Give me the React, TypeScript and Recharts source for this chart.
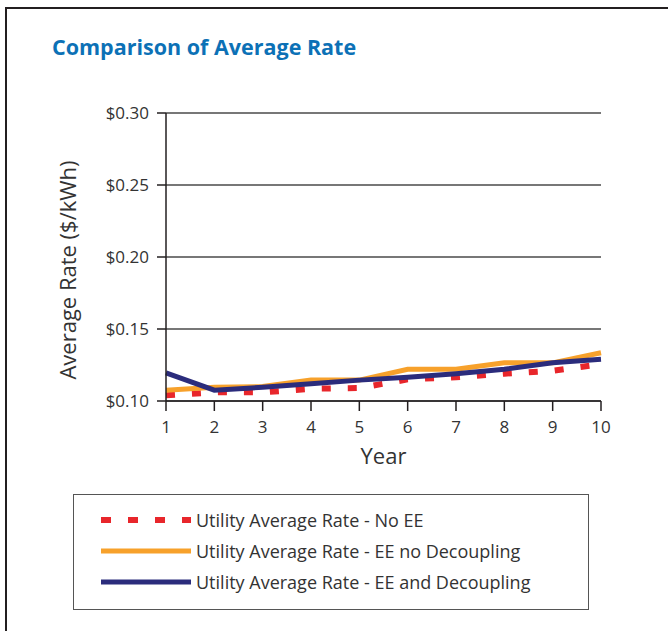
import React from "react";
import { LineChart, Line, XAxis, YAxis, CartesianGrid } from "recharts";

const years = [1, 2, 3, 4, 5, 6, 7, 8, 9, 10];
const noEE = [0.104, 0.106, 0.106, 0.1085, 0.109, 0.115, 0.1165, 0.119, 0.121, 0.1255];
const eeNoDecoupling = [0.1075, 0.1095, 0.110, 0.1145, 0.1145, 0.122, 0.122, 0.1265, 0.1265, 0.1335];
const eeDecoupling = [0.1195, 0.1075, 0.1095, 0.112, 0.1145, 0.1165, 0.119, 0.122, 0.1265, 0.129];
const yTicks = [0.1, 0.15, 0.2, 0.25, 0.3];

const RED = "#e8262b";
const ORANGE = "#f7a12b";
const NAVY = "#2b2c7c";
const TEXT = "#333333";
const FONT = "'Open Sans', 'Noto Sans', sans-serif";

const data = years.map((y, i) => ({
  year: y,
  noEE: noEE[i],
  eeNo: eeNoDecoupling[i],
  eeDec: eeDecoupling[i],
}));

const legendItems = [
  { label: "Utility Average Rate - No EE", color: RED, dash: "10 17", width: 6 },
  { label: "Utility Average Rate - EE no Decoupling", color: ORANGE, dash: undefined, width: 5 },
  { label: "Utility Average Rate - EE and Decoupling", color: NAVY, dash: undefined, width: 5 },
];

export default function App() {
  return (
    <div
      style={{
        position: "absolute",
        left: 0,
        top: 0,
        width: 668,
        height: 631,
        overflow: "hidden",
        background: "#fff",
        fontFamily: FONT,
      }}
    >
      {/* outer frame */}
      <div
        style={{
          position: "absolute",
          left: 5,
          top: 7,
          width: 720,
          height: 700,
          border: "2px solid #231f20",
        }}
      />
      <div
        style={{
          position: "absolute",
          left: 52,
          top: 32,
          fontSize: 21.5,
          fontWeight: 700,
          color: "#0c71b6",
          whiteSpace: "nowrap",
        }}
      >
        Comparison of Average Rate
      </div>

      <div style={{ position: "absolute", left: 0, top: 0 }}>
        <LineChart
          width={668}
          height={631}
          data={data}
          margin={{ top: 113, right: 67, left: 56, bottom: 170 }}
        >
          <CartesianGrid vertical={false} stroke="#4a4a4a" strokeWidth={1.5} />
          <XAxis
            dataKey="year"
            type="number"
            domain={[1, 10]}
            ticks={years}
            height={60}
            tickSize={10}
            tickMargin={10}
            stroke="#231f20"
            strokeWidth={1.5}
            tick={{ fill: TEXT, fontSize: 17, fontFamily: FONT }}
            label={{
              content: ({ viewBox }: any) => (
                <text
                  x={viewBox.x + viewBox.width / 2}
                  y={viewBox.y + 63}
                  textAnchor="middle"
                  fill={TEXT}
                  fontSize={22}
                  fontFamily={FONT}
                >
                  Year
                </text>
              ),
            }}
          />
          <XAxis
            xAxisId="top"
            orientation="top"
            dataKey="year"
            type="number"
            domain={[1, 10]}
            height={0}
            tick={false}
            tickLine={false}
            stroke="#231f20"
            strokeWidth={1.5}
          />
          <YAxis
            domain={[0.1, 0.3]}
            ticks={yTicks}
            width={110}
            tickSize={9}
            tickMargin={8}
            stroke="#231f20"
            strokeWidth={1.5}
            tickFormatter={(v: number) => `$${v.toFixed(2)}`}
            tick={{ fill: TEXT, fontSize: 17, fontFamily: FONT }}
            label={{
              content: ({ viewBox }: any) => {
                const cx = viewBox.x + 11;
                const cy = viewBox.y + viewBox.height / 2 + 13;
                return (
                  <text
                    x={cx}
                    y={cy}
                    transform={`rotate(-90 ${cx} ${cy})`}
                    textAnchor="middle"
                    dominantBaseline="central"
                    fill={TEXT}
                    fontSize={22}
                    fontFamily={FONT}
                  >
                    Average Rate ($/kWh)
                  </text>
                );
              },
            }}
          />
          <YAxis
            yAxisId="right"
            orientation="right"
            domain={[0.1, 0.3]}
            width={0}
            tick={false}
            tickLine={false}
            stroke="#231f20"
            strokeWidth={1.5}
          />
          <Line
            dataKey="noEE"
            type="linear"
            stroke={RED}
            strokeWidth={6}
            strokeDasharray="9 17"
            dot={false}
            isAnimationActive={false}
          />
          <Line
            dataKey="eeNo"
            type="linear"
            stroke={ORANGE}
            strokeWidth={5}
            dot={false}
            isAnimationActive={false}
          />
          <Line
            dataKey="eeDec"
            type="linear"
            stroke={NAVY}
            strokeWidth={5}
            dot={false}
            isAnimationActive={false}
          />
        </LineChart>
      </div>

      {/* legend */}
      <div
        style={{
          position: "absolute",
          left: 73,
          top: 494,
          width: 514,
          height: 114,
          border: "1.5px solid #555",
        }}
      >
        {legendItems.map((item, i) => (
          <div
            key={item.label}
            style={{
              position: "absolute",
              left: 27,
              top: 12 + i * 31,
              height: 26,
              display: "flex",
              alignItems: "center",
              whiteSpace: "nowrap",
            }}
          >
            <svg width={91} height={10} style={{ display: "block" }}>
              <line
                x1={0}
                y1={5}
                x2={90}
                y2={5}
                stroke={item.color}
                strokeWidth={item.width}
                strokeDasharray={item.dash}
              />
            </svg>
            <span style={{ marginLeft: 4, fontSize: 18, color: TEXT }}>{item.label}</span>
          </div>
        ))}
      </div>
    </div>
  );
}
